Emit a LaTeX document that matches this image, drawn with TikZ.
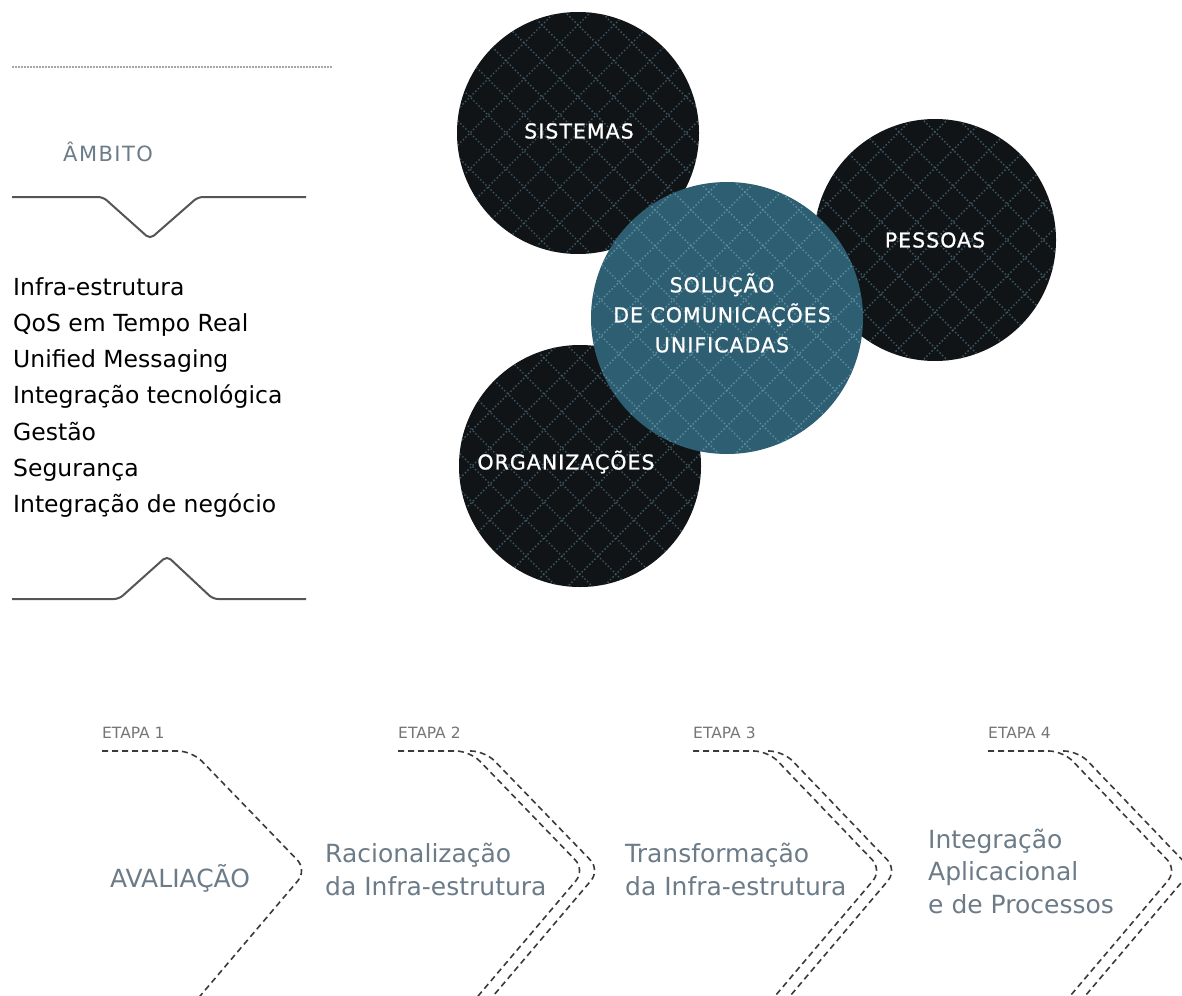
\documentclass[tikz,border=0pt]{standalone}
\usepackage{fontspec}
\setmainfont{DejaVu Sans}
\usepackage{xcolor}
\usepackage{tikz}
\usetikzlibrary{positioning, calc}

\definecolor{inkgray}{HTML}{6C7B88}
\definecolor{linegray}{HTML}{555555}
\definecolor{dashgray}{HTML}{3A3A3A}
\definecolor{discdark}{HTML}{111416}
\definecolor{discteal}{HTML}{2D5E71}
\definecolor{lattdark}{HTML}{3F5A69}
\definecolor{lattteal}{HTML}{5F8FA1}

\tikzset{
    lattice/.style={path picture={
        \foreach \k in {-9,...,9}{
            \draw[#1, line width=1.4pt, dash pattern=on 1.4pt off 2.2pt]
                ([shift={(\k*36-170,-170)}]path picture bounding box.center) -- ++(340,340);
            \draw[#1, line width=1.4pt, dash pattern=on 1.4pt off 2.2pt]
                ([shift={(\k*36-170,170)}]path picture bounding box.center) -- ++(340,-340);
        }}},
    disc/.style={circle, inner sep=0pt, minimum size=242, fill=discdark, lattice=lattdark},
    disctext/.style={text=white, align=center,
        font=\fontsize{20.5}{30}\selectfont\addfontfeature{LetterSpace=5, FakeBold=1}},
    bracket/.style={draw=linegray, line width=2pt, rounded corners=5pt},
    item/.style={anchor=base west, inner sep=0pt, font=\fontsize{23.5}{30}\selectfont},
    stagetext/.style={anchor=base west, inner sep=0pt, align=left, text=inkgray,
        font=\fontsize{25}{32.5}\selectfont},
    etapa/.style={anchor=base west, inner sep=0pt, text=dashgray!70,
        font=\fontsize{15.5}{18}\selectfont},
    dashline/.style={draw=dashgray, line width=1.6pt, dash pattern=on 6pt off 4pt,
        rounded corners=14pt},
}

\begin{document}
\begin{tikzpicture}[x=1pt, y=-1pt]
        \useasboundingbox (0,0) rectangle (1182,995);
        \clip (0,0) rectangle (1182,995);

        % Âmbito
        \draw[gray!70, line width=1.5pt, dash pattern=on 1.5pt off 1.5pt] (12,67) -- (333,67);
        \node[anchor=base west, inner sep=0pt, text=inkgray,
            font=\fontsize{21}{24}\selectfont\addfontfeature{LetterSpace=7}] (ambito) at (63,162) {ÂMBITO};
        \draw[bracket] (12,197) -- (103,197) -- (150,239) -- (198,197) -- (306,197);
        \foreach \t [count=\i] in {Infra-estrutura, QoS em Tempo Real, Unified Messaging,
            Integração tecnológica, Gestão, Segurança, Integração de negócio}
            \node[item] (it\i) at (13,258.7+36.3*\i) {\t};
        \draw[bracket] (12,599) -- (119,599) -- (167,556) -- (213,599) -- (306,599);

        % Círculos
        \node[disc] (sis) at (578,133) {};
        \node[disc] (pes) at (935,240) {};
        \node[disc] (org) at (580,466) {};
        \node[disc, minimum size=272, fill=discteal, lattice=lattteal] (sol) at (727,318) {};
        \node[disctext] at ([xshift=1pt, yshift=2pt]sis.center) {SISTEMAS};
        \node[disctext] at (pes.center) {PESSOAS};
        \node[disctext] at ([xshift=-14pt, yshift=4pt]org.center) {ORGANIZAÇÕES};
        \node[disctext] at ([xshift=-5pt, yshift=5pt]sol.center) {SOLUÇÃO\\DE COMUNICAÇÕES\\UNIFICADAS};

        % Etapas
        \foreach \x/\h/\t/\n in {102/192/307/1, 398/470/585/2, 693/768/882/3, 988/1063/1177/4}{
            \node[etapa] (et\n) at (\x,738) {ETAPA \n};
            \draw[dashline] (\x,751) -- (\h,751) -- (\t,870) -- (\t-112,1002);
        }
        \foreach \h/\t in {470/585, 768/882, 1063/1177}
            \draw[dashline] (\h,751) -- (\h+15,751) -- (\t+15,870) -- (\t-97,1002);

        \node[stagetext] (s1) at (110,887) {AVALIAÇÃO};
        \node[stagetext] (s2) at (325,895) {Racionalização\\da Infra-estrutura};
        \node[stagetext] (s3) at (625,895) {Transformação\\da Infra-estrutura};
        \node[stagetext] (s4) at (928,913) {Integração\\Aplicacional\\e de Processos};
    \end{tikzpicture}
\end{document}
